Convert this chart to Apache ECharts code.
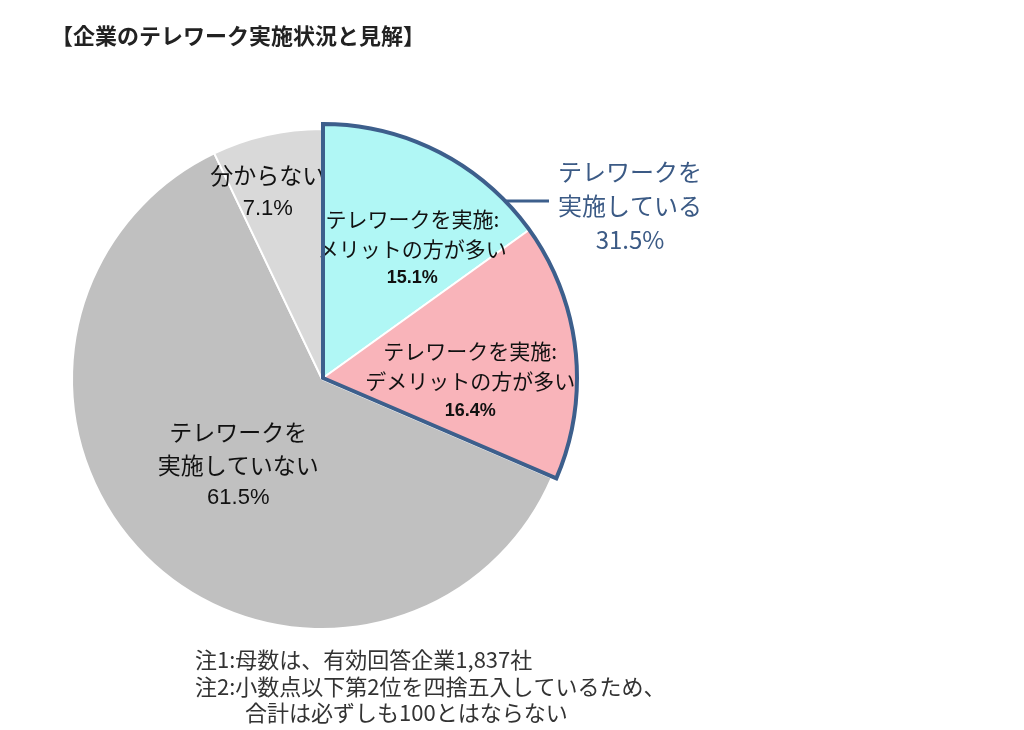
<!DOCTYPE html>
<html lang="ja">
<head>
    <meta charset="UTF-8">
    <title>企業のテレワーク実施状況と見解</title>
    <script src="https://cdn.jsdelivr.net/npm/echarts@6/dist/echarts.min.js"></script>
    <style>
        html, body { margin: 0; padding: 0; background: #fff; }
        #main { width: 1024px; height: 730px; }
    </style>
</head>
<body>
    <div id="main"></div>
    <script>
        // データ
        var categories = ['テレワークを実施:\nメリットの方が多い', 'テレワークを実施:\nデメリットの方が多い', 'テレワークを\n実施していない', '分からない'];
        var shares = [15.1, 16.4, 61.5, 7.1];
        var sliceColors = ['#b0f7f5', '#f9b4ba', '#c0c0c0', '#d9d9d9'];
        var groupName = 'テレワークを\n実施している';
        var groupShare = 31.5;
        var notes = ['注1:母数は、有効回答企業1,837社', '注2:小数点以下第2位を四捨五入しているため、', '合計は必ずしも100とはならない'];

        var FONT = '"Noto Sans CJK JP", "Noto Sans", sans-serif';
        var cx = 322, cy = 379;
        // ラベルのずらし量
        var labelShift = [[30, -14], [18, 17], [5, -6], [-26, -62]];
        var blue = '#3d5f8c';

        function labelFor(i) {
            var big = i >= 2;
            return {
                show: true,
                position: 'inside',
                formatter: '{n|' + categories[i].split('\n').join('}\n{n|') + '}\n{p|' + shares[i].toFixed(1) + '%}',
                rich: {
                    n: { fontSize: big ? 23 : 21, lineHeight: big ? 33 : 30, color: '#111', fontFamily: FONT },
                    p: { fontSize: big ? 22 : 18, lineHeight: big ? 33 : 29, color: '#111', fontFamily: 'Liberation Sans, Arial, sans-serif', fontWeight: big ? 'normal' : 'bold' }
                }
            };
        }

        var baseData = categories.map(function (name, i) {
            return {
                name: name,
                value: shares[i],
                itemStyle: { color: sliceColors[i] },
                label: i >= 2 ? labelFor(i) : { show: false }
            };
        });

        // 実施している2項目だけ大きく描く
        var highlightData = categories.map(function (name, i) {
            var on = i < 2;
            return {
                name: name,
                value: shares[i],
                itemStyle: on ? { color: sliceColors[i], borderColor: '#fff', borderWidth: 2 }
                              : { color: 'rgba(0,0,0,0)', borderWidth: 0 },
                label: on ? labelFor(i) : { show: false }
            };
        });

        // 31.5%の外枠
        var outlineData = [
            { name: groupName, value: shares[0] + shares[1], itemStyle: { color: 'rgba(0,0,0,0)', borderColor: blue, borderWidth: 4, borderJoin: 'miter' } },
            { name: categories[2], value: shares[2], itemStyle: { color: 'rgba(0,0,0,0)', borderWidth: 0 } },
            { name: categories[3], value: shares[3], itemStyle: { color: 'rgba(0,0,0,0)', borderWidth: 0 } }
        ];

        var shiftLabel = function (params) {
            var s = labelShift[params.dataIndex];
            return { dx: s[0], dy: s[1] };
        };

        var myChart = echarts.init(document.getElementById('main'));

        var option = {
            animation: false,
            title: {
                text: '【企業のテレワーク実施状況と見解】',
                left: 46,
                top: 20,
                textStyle: { fontSize: 22, fontWeight: 'bold', color: '#222', fontFamily: FONT }
            },
            series: [
                {
                    type: 'pie',
                    center: [cx, cy],
                    radius: [0, 250],
                    startAngle: 90,
                    clockwise: true,
                    silent: true,
                    emphasis: { disabled: true },
                    itemStyle: { borderColor: '#fff', borderWidth: 2 },
                    labelLine: { show: false },
                    labelLayout: shiftLabel,
                    data: baseData,
                    z: 1
                },
                {
                    type: 'pie',
                    center: [cx + 1, cy - 1],
                    radius: [0, 254],
                    startAngle: 90,
                    silent: true,
                    emphasis: { disabled: true },
                    labelLine: { show: false },
                    labelLayout: shiftLabel,
                    data: highlightData,
                    z: 2
                },
                {
                    type: 'pie',
                    center: [cx + 1, cy - 1],
                    radius: [0, 254],
                    startAngle: 90,
                    silent: true,
                    emphasis: { disabled: true },
                    label: { show: false },
                    labelLine: { show: false },
                    data: outlineData,
                    z: 4
                }
            ],
            graphic: [
                {
                    type: 'line',
                    z: 5,
                    shape: { x1: 505, y1: 201, x2: 549, y2: 201 },
                    style: { stroke: blue, lineWidth: 3 }
                },
                {
                    type: 'text',
                    z: 5,
                    x: 630,
                    y: 206,
                    style: {
                        text: groupName + '\n' + groupShare.toFixed(1) + '%',
                        font: '24px ' + FONT,
                        fill: '#3b5a85',
                        align: 'center',
                        verticalAlign: 'middle',
                        lineHeight: 34
                    }
                },
                {
                    type: 'text', x: 195, y: 660,
                    style: { text: notes[0], font: '22px ' + FONT, fill: '#333', verticalAlign: 'middle' }
                },
                {
                    type: 'text', x: 195, y: 687,
                    style: { text: notes[1], font: '22px ' + FONT, fill: '#333', verticalAlign: 'middle' }
                },
                {
                    type: 'text', x: 245, y: 713,
                    style: { text: notes[2], font: '22px ' + FONT, fill: '#333', verticalAlign: 'middle' }
                }
            ]
        };

        myChart.setOption(option);
    </script>
</body>
</html>
